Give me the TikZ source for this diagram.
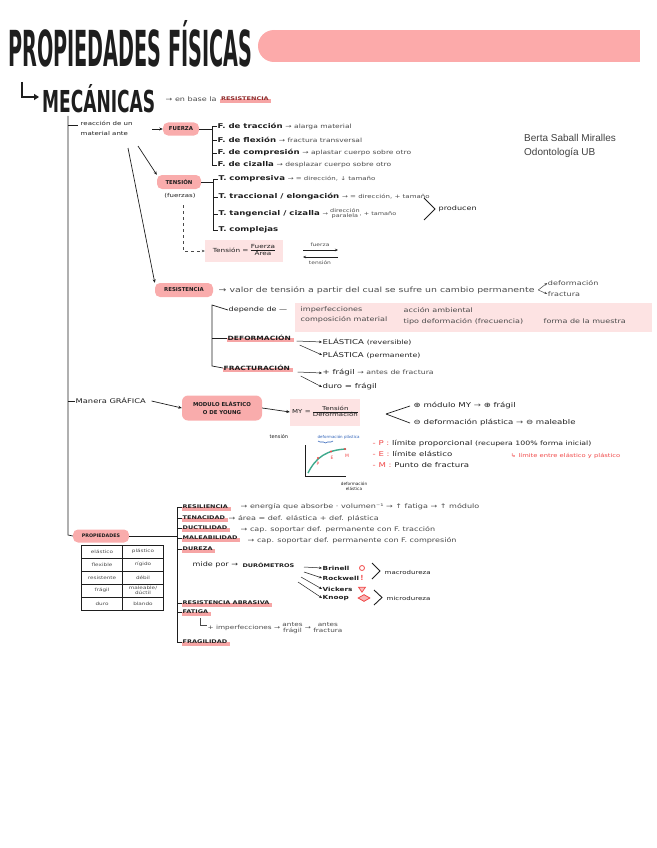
\documentclass[tikz,border=0pt]{standalone}
\usepackage{fontspec}
\setmainfont{DejaVu Sans}
\newfontfamily\notefont[FakeStretch=1.3]{DejaVu Sans}
\newfontfamily\authorfont{Liberation Sans}
\usetikzlibrary{arrows.meta,calc,decorations.pathreplacing,shapes.geometric}
\pgfdeclarelayer{bg}
\pgfsetlayers{bg,main}
\definecolor{pill}{HTML}{F9ACAC}
\definecolor{barpink}{HTML}{FCAAAA}
\definecolor{softpink}{HTML}{FDE3E3}
\definecolor{hlc}{HTML}{F6A5A5}
\definecolor{ink}{HTML}{1E1E1E}
\definecolor{pen}{HTML}{4A4A4A}
\definecolor{redink}{HTML}{F04848}
\definecolor{blueink}{HTML}{2F62B8}
\definecolor{curvec}{HTML}{3EA98C}
\newcommand\stk[2]{\begin{tabular}{@{}c@{}}#1\\#2\end{tabular}}
\renewcommand\arraystretch{0.75}
\tikzset{
  note/.style={font=\notefont\fontsize{6.2}{7}\selectfont, text=pen, inner sep=0.5pt, anchor=west},
  item/.style={font=\notefont\fontsize{6.6}{7.6}\selectfont, text=ink, inner sep=0.5pt, anchor=west},
  head/.style={font=\notefont\fontsize{5.0}{6}\selectfont\bfseries, text=ink, inner sep=0.5pt, anchor=west},
  bighead/.style={head, font=\notefont\fontsize{5.8}{6.5}\selectfont\bfseries},
  pillbox/.style={fill=pill, rounded corners=5pt, font=\fontsize{5.4}{6.4}\selectfont\bfseries, text=ink, inner xsep=3pt, inner ysep=3pt, align=center},
  ln/.style={draw=ink, line width=0.7pt},
  thinln/.style={draw=pen, line width=0.5pt},
  arr/.style={ln, -{Stealth[length=3.5pt,width=3pt]}},
  tarr/.style={thinln, -{Stealth[length=3pt,width=2.5pt]}},
  softbox/.style={fill=softpink, inner sep=0pt},
  cell/.style={draw=ink, line width=0.9pt, minimum width=41pt, minimum height=13pt, inner sep=0pt, font=\notefont\fontsize{4.4}{5}\selectfont, text=pen, align=center},
}
\newcommand\hlhead[4][head]{%
  \node[#1] (#2) at (#3) {#4};
  \begin{pgfonlayer}{bg}
    \fill[hlc] ([yshift=-1pt]#2.south west) rectangle ([xshift=2pt,yshift=-0.3pt]#2.east);
  \end{pgfonlayer}}
\begin{document}
\begin{tikzpicture}[x=1pt,y=-1pt]
\useasboundingbox (0,0) rectangle (656,848);

% ---------- title ----------
\node[anchor=north west, inner sep=0, text=ink] (title) at (8,20) {\resizebox{244pt}{46pt}{\bfseries PROPIEDADES FÍSICAS}};
\fill[barpink] (274,46) circle[radius=16];
\fill[barpink] (274,30) rectangle (640,62);

\node[anchor=north west, inner sep=0, text=ink] (mec) at (42,84) {\resizebox{113pt}{28pt}{\bfseries MECÁNICAS}};
\coordinate (hk) at (22,82);
\draw[ink, line width=1.8pt, -{Triangle[length=5pt,width=6pt]}] (hk) |- ([xshift=-3pt]mec.west |- 0,97);
\node[note] (enbase) at (165,99) {→ en base la};
\hlhead{resref}{$(enbase.east)+(3,0)$}{\color{redink!60!black}RESISTENCIA}

% ---------- author ----------
\node[anchor=west, inner sep=0, font=\authorfont\fontsize{10}{14.5}\selectfont, text=black!75, align=left] (author) at (524,146) {Berta Saball Miralles\\Odontología UB};

% ---------- main vertical ----------
\coordinate (m0) at (68,116);
\coordinate (m1) at (68,535);

% reacción
\node[note, anchor=north west, align=left, font=\notefont\fontsize{5.4}{10}\selectfont, text=ink] (reac) at (80,120) {reacción de un\\material ante};
\draw[ln] (m0 |- 0,125) -- (78,125);

% FUERZA
\node[pillbox, minimum width=36pt, minimum height=13pt] (fuerza) at (181,129) {FUERZA};
\coordinate (r1) at (152,129);
\draw[arr] (r1) -- (fuerza.west);
\node[item] (f1) at (217,126) {\textbf{F. de tracción} {\color{pen}\fontsize{5.8}{6}\selectfont → alarga material}};
\node[item] (f2) at (217,140) {\textbf{F. de flexión} {\color{pen}\fontsize{5.8}{6}\selectfont → fractura transversal}};
\node[item] (f3) at (217,153) {\textbf{F. de compresión} {\color{pen}\fontsize{5.8}{6}\selectfont → aplastar cuerpo sobre otro}};
\node[item] (f4) at (217,165) {\textbf{F. de cizalla} {\color{pen}\fontsize{5.8}{6}\selectfont → desplazar cuerpo sobre otro}};
\coordinate (bF) at (212,0);
\draw[ln] (f1.west) -- (bF |- f1.west) -- (bF |- f4.west) -- (f4.west);
\draw[ln] (bF |- f2.west) -- (f2.west);
\draw[ln] (bF |- f3.west) -- (f3.west);
\draw[ln] (fuerza.east) -- (bF |- fuerza.east);

% TENSIÓN
\node[pillbox, minimum width=44pt, minimum height=14pt] (tension) at (179,182) {TENSIÓN};
\node[note, anchor=center, text=ink, font=\notefont\fontsize{5.4}{6}\selectfont] (fz) at (180,196) {(fuerzas)};
\coordinate (r2) at (138,146);
\draw[arr] (r2) -- (tension.north west);
\node[item] (t1) at (218,179) {\textbf{T. compresiva} {\color{pen}\fontsize{5.4}{6}\selectfont → = dirección, ↓ tamaño}};
\node[item] (t2) at (218,197) {\textbf{T. traccional / elongación} {\color{pen}\fontsize{5.4}{6}\selectfont → = dirección, + tamaño}};
\node[item] (t3) at (218,214) {\textbf{T. tangencial / cizalla} {\color{pen}\fontsize{5.0}{6}\selectfont → \stk{dirección}{paralela}, + tamaño}};
\node[item] (t4) at (218,230) {\textbf{T. complejas}};
\coordinate (bT) at (213,0);
\draw[ln] (t1.west) -- (bT |- t1.west) -- (bT |- t4.west) -- (t4.west);
\draw[ln] (bT |- t2.west) -- (t2.west);
\draw[ln] (bT |- t3.west) -- (t3.west);
\draw[ln] (tension.east) -- (bT |- tension.east);
\coordinate (g1) at (424,198);
\coordinate (g2) at (435,209);
\coordinate (g3) at (424,220);
\draw[ink, line width=1pt] (g1) -- (g2) -- (g3);
\node[note, text=ink] (producen) at (438,209) {producen};

% Tensión = Fuerza / Área
\node[softbox, minimum width=78pt, minimum height=22pt, font=\notefont\fontsize{5.6}{6.5}\selectfont, text=ink] (eq) at (244,251) {Tensión = \begin{tabular}{@{}c@{}}Fuerza\\\hline Área\end{tabular}};
\coordinate (d0) at (183,205);
\draw[thinln, dashed, -{Stealth[length=3pt,width=2.5pt]}] (d0) |- (eq.west);
\node[note, anchor=center, font=\notefont\fontsize{4.6}{5}\selectfont] (fuerzaw) at (320,245) {fuerza};
\node[note, anchor=center, font=\notefont\fontsize{4.6}{5}\selectfont] (tensionw) at (320,263) {tensión};
\coordinate (a1) at (303,250);
\coordinate (a2) at (338,250);
\coordinate (a3) at (338,257);
\coordinate (a4) at (303,257);
\draw[tarr, draw=ink] (a1) -- (a2);
\draw[tarr, draw=ink] (a3) -- (a4);

% RESISTENCIA
\node[pillbox, minimum width=58pt, minimum height=14pt] (res) at (184,290) {RESISTENCIA};
\coordinate (r3) at (128,148);
\draw[arr] (r3) -- (res.north west);
\node[note, font=\notefont\fontsize{7.2}{8}\selectfont] (valor) at (218,290) {→ valor de tensión a partir del cual se sufre un cambio permanente};
\coordinate (sp) at ($(valor.east)+(3,0)$);
\node[note] (defw) at ($(sp)+(9,-7)$) {deformación};
\node[note] (fracw) at ($(sp)+(9,4)$) {fractura};
\draw[tarr] (sp) -- (defw.west);
\draw[tarr] (sp) -- (fracw.west);

\fill[softpink] (295,303) rectangle (652,332);
\node[note, text=ink] (dep) at (228,310) {depende de —};
\node[note] (imp) at (300,310) {imperfecciones};
\node[note] (comp) at (300,320) {composición material};
\node[note] (acc) at (403,310) {acción ambiental};
\node[note] (tipo) at (403,322) {tipo deformación (frecuencia)};
\node[note] (forma) at (543,321) {forma de la muestra};

\hlhead[bighead]{defo}{227,338}{DEFORMACIÓN}
\node[item] (ela) at (322,342) {ELÁSTICA {\fontsize{6}{6}\selectfont (reversible)}};
\node[item] (pla) at (322,355) {PLÁSTICA {\fontsize{6}{6}\selectfont (permanente)}};
\draw[tarr, draw=ink] ([xshift=5pt,yshift=-3pt]defo.east) -- (ela.west);
\draw[tarr, draw=ink] ([xshift=8pt,yshift=-7pt]defo.east) -- (pla.west);

\hlhead[bighead]{fract}{223,368}{FRACTURACIÓN}
\node[item] (fr1) at (322,373) {+ frágil {\color{pen}\fontsize{6}{6}\selectfont → antes de fractura}};
\node[item] (fr2) at (322,387) {duro = frágil};
\draw[tarr, draw=ink] ([xshift=7pt,yshift=-4pt]fract.east) -- (fr1.west);
\draw[tarr, draw=ink] ([xshift=10pt,yshift=-8pt]fract.east) -- (fr2.west);

\coordinate (bR) at (212,0);
\draw[ln] (dep.west) -- (bR |- 0,305) -- (bR |- 0,366) -- (fract.west);
\draw[ln] (bR |- defo.west) -- (defo.west);

% Manera GRÁFICA
\node[note, text=ink, font=\notefont\fontsize{6.4}{7}\selectfont] (man) at (75,401) {Manera GRÁFICA};
\draw[ln] (m0 |- man.west) -- (man.west);
\node[pillbox, minimum width=80pt, minimum height=25pt, rounded corners=6pt] (young) at (222,408) {MODULO ELÁSTICO\\[1pt]O DE YOUNG};
\draw[arr] ([xshift=5pt]man.east) -- (young.west);
\node[softbox, minimum width=70pt, minimum height=27pt, font=\notefont\fontsize{5.4}{6.5}\selectfont, text=ink] (my) at (325,412) {MY = \begin{tabular}{@{}c@{}}Tensión\\\hline Deformación\end{tabular}};
\draw[arr] (young.east) -- (my.west);
\coordinate (ys) at (386,414);
\node[item] (pm1) at (413,406) {⊕ módulo MY {\color{pen}→} ⊕ frágil};
\node[item] (pm2) at (413,423) {⊖ deformación plástica {\color{pen}→} ⊖ maleable};
\draw[ln] (ys) -- ([xshift=-3pt]pm1.west);
\draw[ln] (ys) -- ([xshift=-3pt]pm2.west);

% graph
\node[note, text=ink, font=\fontsize{5}{6}\selectfont] (gt) at (269,437) {tensión};
\coordinate (gO) at (305,476);
\coordinate (gY) at (305,445);
\coordinate (gX) at (346,476);
\draw[ink, line width=0.9pt] (gY) -- (gO) -- (gX);
\draw[curvec, line width=1.4pt] (308,473) .. controls (316,457) and (327,450) .. (346,449);
\fill[redink] (318,458) circle[radius=1.2];
\fill[redink] (331,451.5) circle[radius=1.2];
\fill[redink] (345,449) circle[radius=1.2];
\node[note, text=redink, anchor=center, font=\fontsize{4.5}{5}\selectfont] (lp) at (318,464) {P};
\node[note, text=redink, anchor=center, font=\fontsize{4.5}{5}\selectfont] (le) at (332,458) {E};
\node[note, text=redink, anchor=center, font=\fontsize{4.5}{5}\selectfont] (lm) at (347,456) {M};
\node[note, text=blueink, font=\fontsize{4}{5}\selectfont] (gdp) at (317,437) {deformación plástica};
\draw[blueink, line width=0.6pt, decorate, decoration={brace, amplitude=2pt, mirror}] (318,441) -- (333,441);
\node[note, anchor=center, text=ink, align=center, font=\fontsize{4.2}{5}\selectfont] (gde) at (354,486) {deformación\\elástica};
\node[item] (lg1) at (372,444) {{\color{redink}- P :} límite proporcional {\fontsize{6}{6}\selectfont (recupera 100\% forma inicial)}};
\node[item] (lg2) at (372,454) {{\color{redink}- E :} límite elástico};
\node[item] (lg3) at (372,465) {{\color{redink}- M :} Punto de fractura};
\node[note, text=redink, font=\notefont\fontsize{5.2}{5.5}\selectfont] (lgn) at (510,456) {↳ límite entre elástico y plástico};

% PROPIEDADES
\node[pillbox, minimum width=56pt, minimum height=13pt, font=\fontsize{4.8}{5.5}\selectfont\bfseries] (prop) at (101,536) {PROPIEDADES};
\draw[ln] (m0) -- (m1) -- (prop.west);
\coordinate (bP) at (177,0);
\draw[ln] (prop.east) -- (bP |- prop.east);

% table
\node[cell] (c11) at (102,551.5) {elástico};
\node[cell] (c12) at (143,551.5) {plástico};
\node[cell] (c21) at (102,564.5) {flexible};
\node[cell] (c22) at (143,564.5) {rígido};
\node[cell] (c31) at (102,577.5) {resistente};
\node[cell] (c32) at (143,577.5) {débil};
\node[cell] (c41) at (102,590.5) {frágil};
\node[cell] (c42) at (143,590.5) {maleable/\\dúctil};
\node[cell] (c51) at (102,603.5) {duro};
\node[cell] (c52) at (143,603.5) {blando};

% property list
\hlhead{p1}{182,507}{RESILIENCIA}
\node[note] (p1n) at (240,507) {→ energía que absorbe · volumen⁻¹ → ↑ fatiga → ↑ módulo};
\hlhead{p2}{182,518}{TENACIDAD}
\node[note] (p2n) at (228,519) {→ área = def. elástica + def. plástica};
\hlhead{p3}{182,528}{DUCTILIDAD}
\node[note] (p3n) at (240,530) {→ cap. soportar def. permanente con F. tracción};
\hlhead{p4}{182,538}{MALEABILIDAD}
\node[note] (p4n) at (247,541) {→ cap. soportar def. permanente con F. compresión};
\hlhead{p5}{182,549}{DUREZA}
\node[note, text=ink] (mide) at (192,565) {mide por →};
\node[head] (duro) at ($(mide.east)+(3,0)$) {DURÓMETROS};
\node[item, font=\notefont\fontsize{5.6}{6.5}\selectfont\bfseries] (d1) at (322,568) {Brinell};
\node[item, font=\notefont\fontsize{5.6}{6.5}\selectfont\bfseries] (d2) at (322,578) {Rockwell};
\node[item, font=\notefont\fontsize{5.6}{6.5}\selectfont\bfseries] (d3) at (322,589) {Vickers};
\node[item, font=\notefont\fontsize{5.6}{6.5}\selectfont\bfseries] (d4) at (322,598) {Knoop};
\coordinate (du1) at (304,567);
\coordinate (du2) at (304,572);
\coordinate (du3) at (301,577);
\coordinate (du4) at (298,582);
\draw[tarr, draw=ink] (du1) -- (d1.west);
\draw[tarr, draw=ink] (du2) -- (d2.west);
\draw[tarr, draw=ink] (du3) -- (d3.west);
\draw[tarr, draw=ink] (du4) -- (d4.west);
\node[circle, draw=redink, line width=0.8pt, minimum size=5pt, inner sep=0pt] (s1) at (362,568) {};
\node[inner sep=0pt, text=redink, font=\fontsize{7}{7}\selectfont\bfseries] (s2) at (362,578) {!};
\node[isosceles triangle, shape border rotate=-90, draw=redink, fill=redink!35, line width=0.7pt, minimum size=5pt, inner sep=0pt, isosceles triangle apex angle=70] (s3) at (362,589) {};
\node[diamond, draw=redink, fill=redink!40, line width=0.8pt, minimum width=12pt, minimum height=7pt, inner sep=0pt] (s4) at (364,598) {};
\coordinate (ga1) at (372,563);
\coordinate (ga2) at (380,571);
\coordinate (ga3) at (372,579);
\draw[ink, line width=0.9pt] (ga1) -- (ga2) -- (ga3);
\node[note, text=ink, font=\notefont\fontsize{5.4}{6}\selectfont] (macro) at (384,572) {macrodureza};
\coordinate (gb1) at (374,590);
\coordinate (gb2) at (382,597.5);
\coordinate (gb3) at (374,605);
\draw[ink, line width=0.9pt] (gb1) -- (gb2) -- (gb3);
\node[note, text=ink, font=\notefont\fontsize{5.4}{6}\selectfont] (micro) at (386,598) {microdureza};
\hlhead{p6}{182,603}{RESISTENCIA ABRASIVA}
\hlhead{p7}{182,612}{FATIGA}
\node[note, anchor=north west, font=\notefont\fontsize{5.6}{6.5}\selectfont] (fat) at (207,622) {+ imperfecciones → \stk{antes}{frágil} → \stk{antes}{fractura}};
\coordinate (fh) at (200,618);
\draw[thinln] (fh) |- ([yshift=-3pt]fat.north west);
\hlhead{p8}{182,642}{FRAGILIDAD}

\draw[ln] (p1.west) -- (bP |- p1.west) -- (bP |- p8.west) -- (p8.west);
\foreach \n in {p2,p3,p4,p5,p6,p7}{\draw[ln] (bP |- \n.west) -- (\n.west);}
\end{tikzpicture}
\end{document}
